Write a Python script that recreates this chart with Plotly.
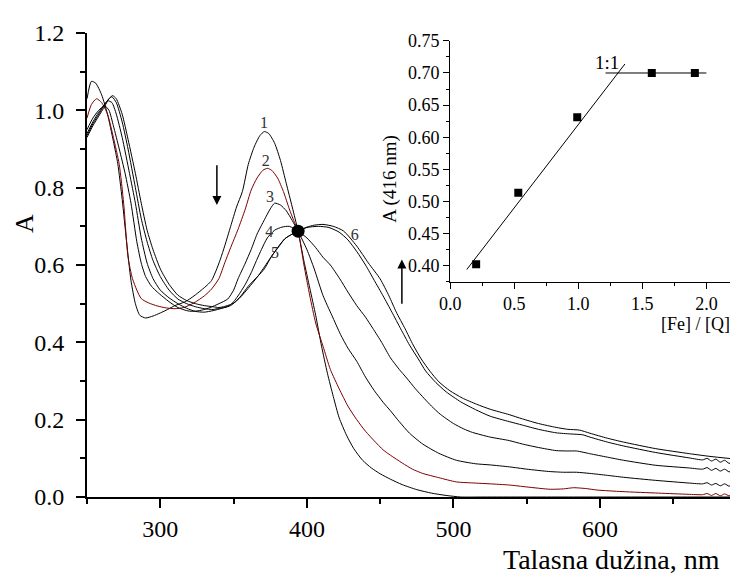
import plotly.graph_objects as go

# ---------------- data: main spectra ----------------
x1 = [250, 253, 256, 260, 264, 268, 271, 274, 277, 280, 283, 286, 290, 295, 300, 305, 310, 317, 323, 328, 332, 335,
      338, 341, 344, 348, 352, 356, 360, 364, 368, 371, 374, 378, 382, 386, 390, 394, 398, 402, 406, 410, 414, 418,
      422, 427, 432, 438, 444, 450, 457, 465, 475, 485, 495, 505, 520, 550, 600, 650, 690]
y1 = [1.03, 1.075, 1.07, 1.04, 0.99, 0.92, 0.862, 0.77, 0.66, 0.56, 0.50, 0.47, 0.463, 0.468, 0.476, 0.485, 0.495,
      0.505, 0.52, 0.535, 0.548, 0.56, 0.585, 0.615, 0.65, 0.70, 0.75, 0.79, 0.86, 0.905, 0.935, 0.945, 0.94, 0.915,
      0.87, 0.81, 0.75, 0.6875, 0.61, 0.54, 0.47, 0.39, 0.32, 0.26, 0.205, 0.16, 0.125, 0.095, 0.075, 0.06, 0.046,
      0.032, 0.019, 0.01, 0.004, 0.0, 0.0, 0.0, 0.0, 0.0, 0.0]

x2 = [250, 253, 256.5, 260, 264, 268, 272, 275, 278, 281, 284, 287, 292, 298, 304, 310, 316, 323, 330, 335, 340, 344,
      348, 353, 358, 362, 366, 370, 373, 376, 380, 384, 388, 391, 394, 398, 402, 406, 411, 416, 422, 428, 434, 440,
      446, 452, 457, 465, 472, 479, 490, 502, 515, 525, 538, 550, 566, 575, 582, 590, 598, 615, 640, 660, 670, 673,
      676, 679, 682, 685, 688, 690]
y2 = [0.98, 1.015, 1.03, 1.02, 0.99, 0.93, 0.86, 0.76, 0.62, 0.565, 0.535, 0.513, 0.502, 0.494, 0.489, 0.487, 0.49,
      0.502, 0.52, 0.538, 0.565, 0.606, 0.645, 0.692, 0.745, 0.794, 0.825, 0.845, 0.85, 0.845, 0.825, 0.79, 0.745,
      0.715, 0.6875, 0.60, 0.52, 0.45, 0.39, 0.33, 0.28, 0.235, 0.2, 0.17, 0.145, 0.122, 0.108, 0.088, 0.072, 0.061,
      0.05, 0.039, 0.036, 0.034, 0.031, 0.026, 0.02, 0.021, 0.024, 0.022, 0.018, 0.014, 0.01, 0.007, 0.006, 0.009,
      0.004, 0.009, 0.003, 0.008, 0.003, 0.006]

x3 = [250, 254, 258, 262, 265, 268, 272, 276, 280, 284, 287, 290, 294, 298, 306, 312, 318, 322, 328, 334, 340, 346,
      350, 353, 358, 362, 366, 371, 375, 378, 382, 386, 390, 394, 400, 405, 411, 417, 423, 428, 434, 440, 446, 452,
      457, 463, 470, 479, 490, 502, 515, 525, 538, 550, 565, 575, 584, 593, 605, 616, 638, 661, 670, 673, 676, 679,
      682, 685, 688, 690]
y3 = [0.95, 0.98, 1.0, 1.012, 1.0, 0.96, 0.9, 0.837, 0.76, 0.66, 0.605, 0.57, 0.545, 0.53, 0.505, 0.49, 0.482, 0.48,
      0.483, 0.49, 0.5, 0.512, 0.535, 0.564, 0.605, 0.64, 0.68, 0.717, 0.745, 0.76, 0.755, 0.74, 0.715, 0.6875, 0.64,
      0.59, 0.521, 0.47, 0.42, 0.385, 0.351, 0.31, 0.275, 0.245, 0.223, 0.195, 0.165, 0.137, 0.113, 0.095, 0.086,
      0.083, 0.078, 0.072, 0.066, 0.064, 0.064, 0.061, 0.056, 0.051, 0.043, 0.036, 0.034, 0.037, 0.031, 0.035, 0.029,
      0.034, 0.028, 0.031]

x4 = [250, 254, 258, 262, 264, 267, 270, 274, 279, 283, 287, 291, 295, 300, 306, 312, 318, 324, 330, 336, 342, 347,
      350, 353, 358, 362, 366, 369, 373, 378, 383, 388, 394, 400, 406, 411, 416, 422.5, 428, 434, 440, 445, 451, 457,
      463, 468, 474, 480, 485, 491, 500, 507, 513, 525, 538, 547, 558, 570, 578, 584, 593, 605, 616, 638, 661, 670,
      673, 676, 679, 682, 685, 688, 690]
y4 = [0.94, 0.97, 0.995, 1.015, 1.025, 1.02, 0.99, 0.93, 0.837, 0.76, 0.67, 0.605, 0.565, 0.535, 0.515, 0.5, 0.488,
      0.48, 0.478, 0.482, 0.488, 0.495, 0.505, 0.52, 0.55, 0.58, 0.615, 0.64, 0.67, 0.69, 0.698, 0.70, 0.6875, 0.67,
      0.645, 0.62, 0.6, 0.564, 0.53, 0.495, 0.465, 0.436, 0.40, 0.36, 0.33, 0.308, 0.28, 0.255, 0.235, 0.214, 0.19,
      0.176, 0.167, 0.155, 0.146, 0.137, 0.128, 0.12, 0.119, 0.119, 0.112, 0.103, 0.095, 0.082, 0.075, 0.072, 0.076,
      0.069, 0.074, 0.067, 0.072, 0.065, 0.068]

x5 = [250, 254, 258, 262, 265, 267, 270, 274, 278, 283, 287, 291, 295, 300, 306, 312, 318, 324, 330, 336, 340, 344,
      348, 351, 355, 360, 366.8, 371, 376, 381, 385, 390, 394, 400, 408, 415, 422, 428, 434, 440, 446, 452, 458, 464,
      470, 476, 481, 488, 495, 505, 515, 525, 538, 547, 558, 570, 580, 588, 593, 605, 616, 638, 661, 670, 673, 676,
      679, 682, 685, 688, 690]
y5 = [0.935, 0.965, 0.99, 1.015, 1.03, 1.035, 1.02, 0.97, 0.9, 0.8, 0.72, 0.66, 0.612, 0.57, 0.535, 0.512, 0.5,
      0.492, 0.487, 0.485, 0.488, 0.49, 0.495, 0.504, 0.52, 0.545, 0.572, 0.59, 0.623, 0.65, 0.668, 0.68, 0.6875,
      0.697, 0.70, 0.697, 0.685, 0.665, 0.635, 0.6, 0.56, 0.52, 0.478, 0.435, 0.393, 0.357, 0.326, 0.296, 0.272,
      0.246, 0.226, 0.209, 0.195, 0.186, 0.175, 0.166, 0.163, 0.161, 0.155, 0.142, 0.132, 0.115, 0.101, 0.096, 0.1,
      0.093, 0.098, 0.09, 0.095, 0.087, 0.09]

x6 = [250, 254, 258, 262, 265, 267.5, 270, 274, 278, 283, 287, 291, 295, 300, 306, 312, 318, 324, 330, 336, 340, 344,
      348, 351, 355, 360, 366.8, 371, 376, 381, 385, 390, 394, 400, 405, 411, 418, 425, 434, 442, 450, 456, 461, 467,
      472.5, 478, 484, 490, 497.5, 506, 515.7, 525, 538, 547, 558, 570, 578, 586, 593, 605, 616, 638, 661, 675, 690]
y6 = [0.93, 0.96, 0.985, 1.01, 1.03, 1.038, 1.03, 0.99, 0.925, 0.837, 0.76, 0.69, 0.64, 0.59, 0.55, 0.522, 0.508,
      0.5, 0.495, 0.492, 0.49, 0.493, 0.498, 0.504, 0.518, 0.54, 0.572, 0.595, 0.623, 0.648, 0.668, 0.68, 0.6875,
      0.698, 0.703, 0.705, 0.70, 0.688, 0.649, 0.605, 0.564, 0.52, 0.478, 0.435, 0.393, 0.357, 0.325, 0.298, 0.275,
      0.256, 0.24, 0.227, 0.213, 0.202, 0.19, 0.18, 0.175, 0.173, 0.165, 0.152, 0.142, 0.125, 0.112, 0.105, 0.099]

curve_labels = ["1", "2", "3", "4", "5", "6"]
label_x = [370.7, 372.0, 374.8, 374.3, 378.2, 432.7]
label_y = [0.965, 0.866, 0.773, 0.683, 0.628, 0.675]

iso_x = [394]
iso_y = [0.6875]

# ---------------- data: inset ----------------
ratio = [0.203, 0.532, 0.992, 1.574, 1.91]
a416 = [0.402, 0.5136, 0.631, 0.700, 0.700]
fit_x = [0.13, 1.364]
fit_y = [0.394, 0.714]
plateau_x = [1.213, 2.0]
plateau_y = [0.70, 0.70]

FONT = "Liberation Serif"
BLACK = "black"
RED = "#7a0000"

fig = go.Figure()
series = [(x1, y1, BLACK), (x2, y2, RED), (x3, y3, BLACK), (x4, y4, BLACK), (x5, y5, BLACK), (x6, y6, BLACK)]
for xs, ys, col in series:
    fig.add_trace(go.Scatter(x=xs, y=ys, mode="lines", line=dict(color=col, width=1, shape="spline", smoothing=0.6),
                             showlegend=False, hoverinfo="skip"))

fig.add_trace(go.Scatter(x=iso_x, y=iso_y, mode="markers", marker=dict(color=BLACK, size=13),
                         showlegend=False, hoverinfo="skip"))
fig.add_trace(go.Scatter(x=label_x, y=label_y, mode="text", text=curve_labels,
                         textfont=dict(family=FONT, size=16, color="#333"), showlegend=False, hoverinfo="skip"))

# inset
fig.add_trace(go.Scatter(x=fit_x, y=fit_y, xaxis="x2", yaxis="y2", mode="lines", line=dict(color=BLACK, width=1),
                         showlegend=False, hoverinfo="skip"))
fig.add_trace(go.Scatter(x=plateau_x, y=plateau_y, xaxis="x2", yaxis="y2", mode="lines",
                         line=dict(color=BLACK, width=1), showlegend=False, hoverinfo="skip"))
fig.add_trace(go.Scatter(x=ratio, y=a416, xaxis="x2", yaxis="y2", mode="markers",
                         marker=dict(symbol="square", size=8, color=BLACK), showlegend=False, hoverinfo="skip"))

tickfont = dict(family=FONT, size=24, color=BLACK)
insetfont = dict(family=FONT, size=18, color=BLACK)

fig.update_layout(
    width=738, height=574,
    font=dict(family=FONT, color=BLACK),
    margin=dict(l=79, r=14, t=20, b=85),
    paper_bgcolor="white", plot_bgcolor="white",
    xaxis=dict(domain=[0, 1], range=[250, 690], showline=True, linecolor=BLACK, linewidth=2,
               ticks="outside", ticklen=9, tickwidth=2, tickcolor=BLACK, dtick=100, tick0=0,
               ticklabelstandoff=0,
               minor=dict(ticks="outside", ticklen=5, tickwidth=2, tickcolor=BLACK, dtick=50, showgrid=False),
               showgrid=False, zeroline=False, tickfont=tickfont),
    yaxis=dict(domain=[0, 1], range=[0, 1.2], showline=True, linecolor=BLACK, linewidth=2,
               ticks="outside", ticklen=9, tickwidth=2, tickcolor=BLACK, dtick=0.2, tick0=0, tickformat=".1f",
               ticklabelstandoff=7,
               minor=dict(ticks="outside", ticklen=5, tickwidth=2, tickcolor=BLACK, dtick=0.1, showgrid=False),
               showgrid=False, zeroline=False, tickfont=tickfont),
    xaxis2=dict(domain=[0.563, 1.0], anchor="y2", range=[0, 2.2], showline=True, linecolor=BLACK, linewidth=1.3,
                ticks="outside", ticklen=6, tickwidth=1.3, tickcolor=BLACK, dtick=0.5, tick0=0, tickformat=".1f",
                minor=dict(ticks="outside", ticklen=3, tickwidth=1.3, tickcolor=BLACK, dtick=0.25, showgrid=False),
                showgrid=False, zeroline=False, tickfont=insetfont),
    yaxis2=dict(domain=[0.464, 0.983], anchor="x2", range=[0.375, 0.75], showline=True, linecolor=BLACK,
                linewidth=1.3, ticks="outside", ticklen=6, tickwidth=1.3, tickcolor=BLACK, dtick=0.05, tick0=0,
                tickformat=".2f",
                minor=dict(ticks="outside", ticklen=3, tickwidth=1.3, tickcolor=BLACK, dtick=0.025, showgrid=False),
                showgrid=False, zeroline=False, tickfont=insetfont),
)

annotations = [
    dict(text="A", xref="paper", yref="paper", x=-0.098, y=0.59, textangle=-90, showarrow=False,
         font=dict(family=FONT, size=26, color=BLACK), xanchor="center", yanchor="middle"),
    dict(text="Talasna dužina, nm", xref="paper", yref="paper", x=0.813, y=-0.134, showarrow=False,
         font=dict(family=FONT, size=28, color=BLACK), xanchor="center", yanchor="middle"),
    dict(text="A (416 nm)", xref="paper", yref="paper", x=0.47, y=0.686, textangle=-90, showarrow=False,
         font=dict(family=FONT, size=19, color=BLACK), xanchor="center", yanchor="middle"),
    dict(text="[Fe] / [Q]", xref="paper", yref="paper", x=0.944, y=0.373, showarrow=False,
         font=dict(family=FONT, size=18, color=BLACK), xanchor="center", yanchor="middle"),
    dict(text="1:1", xref="x2", yref="y2", x=1.221, y=0.7156, showarrow=False,
         font=dict(family=FONT, size=19, color=BLACK), xanchor="center", yanchor="middle"),
    # arrows
    dict(text="", x=338.6, y=0.755, ax=338.6, ay=0.862, xref="x", yref="y", axref="x", ayref="y",
         showarrow=True, arrowhead=2, arrowsize=1.2, arrowwidth=1.5, arrowcolor=BLACK),
    dict(text="", x=464.8, y=0.614, ax=464.8, ay=0.496, xref="x", yref="y", axref="x", ayref="y",
         showarrow=True, arrowhead=2, arrowsize=1.2, arrowwidth=1.5, arrowcolor=BLACK),
]
fig.update_layout(annotations=annotations)

fig.write_html("out.html")
